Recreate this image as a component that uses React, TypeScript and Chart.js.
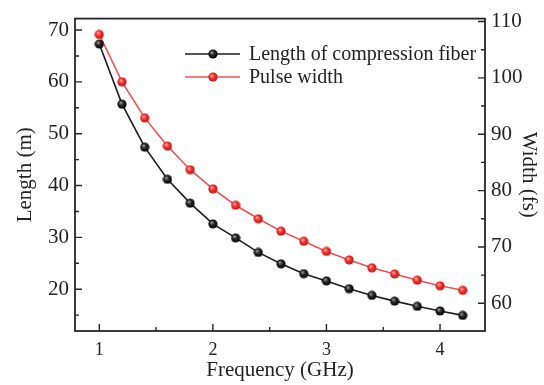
import React, { useEffect, useRef } from 'react';
import { Chart, registerables } from 'chart.js';

Chart.register(...registerables);

const frequencies = [1.0, 1.2, 1.4, 1.6, 1.8, 2.0, 2.2, 2.4, 2.6, 2.8, 3.0, 3.2, 3.4, 3.6, 3.8, 4.0, 4.2];
const lengthValues = [67.3, 55.7, 47.4, 41.2, 36.6, 32.6, 29.9, 27.1, 24.9, 23.0, 21.6, 20.1, 18.8, 17.7, 16.7, 15.8, 14.95];
const widthValues = [107.7, 99.3, 92.9, 87.9, 83.7, 80.3, 77.4, 75.0, 72.8, 71.0, 69.2, 67.7, 66.3, 65.2, 64.1, 63.1, 62.3];

const xTicks = [1, 2, 3, 4];
const xMinorTicks = [1.5, 2.5, 3.5];
const lengthTicks = [20, 30, 40, 50, 60, 70];
const lengthMinorTicks = [15, 25, 35, 45, 55, 65];
const widthTicks = [60, 70, 80, 90, 100, 110];
const widthMinorTicks = [65, 75, 85, 95, 105];

const seriesLabels = ['Length of compression fiber', 'Pulse width'];

const TEXT = '#222222';
const AXIS = '#262626';
const SERIF = '"Liberation Serif", "Times New Roman", serif';

function makeBall(light: string, mid: string, dark: string): HTMLCanvasElement {
  const c = document.createElement('canvas');
  c.width = 10;
  c.height = 10;
  const g = c.getContext('2d')!;
  const grad = g.createRadialGradient(3.6, 3.4, 0.3, 5, 5, 5);
  grad.addColorStop(0, light);
  grad.addColorStop(0.45, mid);
  grad.addColorStop(1, dark);
  g.fillStyle = grad;
  g.beginPath();
  g.arc(5, 5, 4.6, 0, Math.PI * 2);
  g.fill();
  return c;
}

export default function App() {
  const ref = useRef<HTMLCanvasElement | null>(null);

  useEffect(() => {
    document.body.style.margin = '0';
    const canvas = ref.current;
    if (!canvas) return;

    const blackBall = makeBall('#9a9a9a', '#222222', '#000000');
    const redBall = makeBall('#ffb0a8', '#f03028', '#c01010');
    const balls = [blackBall, redBall];
    const lineColors = ['#1c1c1c', '#f25050'];

    const frameTicks = {
      id: 'frameTicks',
      afterDraw(chart: any) {
        const ctx = chart.ctx;
        const { left, right, top, bottom } = chart.chartArea;
        ctx.save();
        ctx.strokeStyle = AXIS;
        ctx.lineWidth = 1.8;
        ctx.strokeRect(left, top, right - left, bottom - top);
        ctx.lineWidth = 1.4;
        const major = 7;
        const minor = 4;
        const sx = chart.scales.x;
        const sl = chart.scales.y;
        const sr = chart.scales.y1;
        ctx.beginPath();
        xTicks.forEach((v) => {
          const p = sx.getPixelForValue(v);
          ctx.moveTo(p, bottom);
          ctx.lineTo(p, bottom - major);
        });
        xMinorTicks.forEach((v) => {
          const p = sx.getPixelForValue(v);
          ctx.moveTo(p, bottom);
          ctx.lineTo(p, bottom - minor);
        });
        lengthTicks.forEach((v) => {
          const p = sl.getPixelForValue(v);
          ctx.moveTo(left, p);
          ctx.lineTo(left + major, p);
        });
        lengthMinorTicks.forEach((v) => {
          const p = sl.getPixelForValue(v);
          ctx.moveTo(left, p);
          ctx.lineTo(left + minor, p);
        });
        widthTicks.forEach((v) => {
          const p = sr.getPixelForValue(v);
          ctx.moveTo(right, p);
          ctx.lineTo(right - major, p);
        });
        widthMinorTicks.forEach((v) => {
          const p = sr.getPixelForValue(v);
          ctx.moveTo(right, p);
          ctx.lineTo(right - minor, p);
        });
        ctx.stroke();

        // legend
        const rows = [54, 77];
        ctx.font = '20px ' + SERIF;
        ctx.textBaseline = 'middle';
        ctx.textAlign = 'left';
        rows.forEach((y, i) => {
          ctx.strokeStyle = lineColors[i];
          ctx.lineWidth = 1.6;
          ctx.beginPath();
          ctx.moveTo(185, y);
          ctx.lineTo(240, y);
          ctx.stroke();
          ctx.drawImage(balls[i], 213 - 5, y - 5);
          ctx.fillStyle = TEXT;
          ctx.fillText(seriesLabels[i], 249, y + 1);
        });
        ctx.restore();
      },
    };

    const tickFontY = { family: SERIF, size: 21 };
    const tickFontX = { family: SERIF, size: 18 };
    const titleFont = { family: SERIF, size: 21 };

    const chart = new Chart(canvas, {
      type: 'line',
      data: {
        datasets: [
          {
            label: seriesLabels[0],
            data: frequencies.map((f, i) => ({ x: f, y: lengthValues[i] })),
            yAxisID: 'y',
            borderColor: lineColors[0],
            borderWidth: 1.6,
            pointStyle: blackBall as any,
            pointRadius: 5,
            tension: 0,
          },
          {
            label: seriesLabels[1],
            data: frequencies.map((f, i) => ({ x: f, y: widthValues[i] })),
            yAxisID: 'y1',
            borderColor: lineColors[1],
            borderWidth: 1.6,
            pointStyle: redBall as any,
            pointRadius: 5,
            tension: 0,
          },
        ],
      },
      options: {
        animation: false,
        responsive: false,
        devicePixelRatio: 1,
        layout: { padding: { top: 12, left: 0, right: 0, bottom: 0 } },
        plugins: { legend: { display: false }, tooltip: { enabled: false } },
        scales: {
          x: {
            type: 'linear',
            min: 0.786,
            max: 4.396,
            afterBuildTicks: (s: any) => {
              s.ticks = xTicks.map((v) => ({ value: v }));
            },
            afterFit: (s: any) => {
              s.height = 54;
            },
            grid: { display: false, drawTicks: false },
            border: { display: false },
            ticks: { font: tickFontX, color: TEXT, padding: 8, maxRotation: 0, autoSkip: false },
            title: { display: true, text: 'Frequency (GHz)', font: titleFont, color: TEXT, padding: { top: 0, bottom: 2 } },
          },
          y: {
            type: 'linear',
            position: 'left',
            min: 11.94,
            max: 72.2,
            afterBuildTicks: (s: any) => {
              s.ticks = lengthTicks.map((v) => ({ value: v }));
            },
            afterFit: (s: any) => {
              s.width = 75;
            },
            grid: { display: false, drawTicks: false },
            border: { display: false },
            ticks: { font: tickFontY, color: TEXT, padding: 6, autoSkip: false },
            title: { display: true, text: 'Length (m)', font: titleFont, color: TEXT, padding: { top: 13, bottom: 0 } },
          },
          y1: {
            type: 'linear',
            position: 'right',
            min: 55.08,
            max: 110.52,
            afterBuildTicks: (s: any) => {
              s.ticks = widthTicks.map((v) => ({ value: v }));
            },
            afterFit: (s: any) => {
              s.width = 59;
            },
            grid: { display: false, drawTicks: false },
            border: { display: false },
            ticks: { font: tickFontY, color: TEXT, padding: 6, autoSkip: false },
            title: { display: true, text: 'Width (fs)', font: titleFont, color: TEXT, padding: { top: 3, bottom: 0 } },
          },
        },
      },
      plugins: [frameTicks],
    });

    return () => {
      chart.destroy();
    };
  }, []);

  return <canvas ref={ref} width={544} height={385} style={{ display: 'block', width: 544, height: 385 }} />;
}
